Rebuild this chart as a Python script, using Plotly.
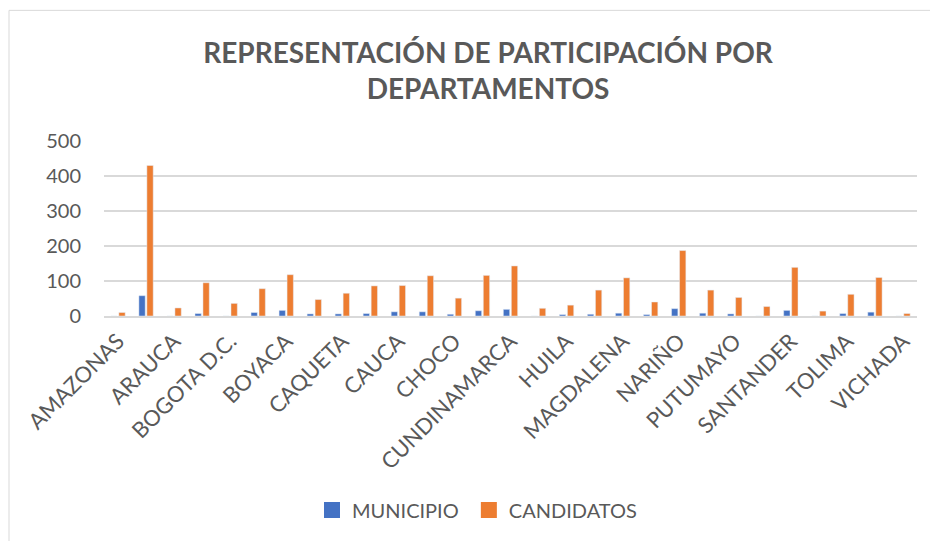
import plotly.graph_objects as go

departamentos = ["AMAZONAS", "ANTIOQUIA", "ARAUCA", "ATLANTICO", "BOGOTA D.C.", "BOLIVAR",
                 "BOYACA", "CALDAS", "CAQUETA", "CASANARE", "CAUCA", "CESAR", "CHOCO",
                 "CORDOBA", "CUNDINAMARCA", "GUAVIARE", "HUILA", "LA GUAJIRA", "MAGDALENA",
                 "META", "NARIÑO", "NORTE DE SANTANDER", "PUTUMAYO", "RISARALDA", "SANTANDER",
                 "SUCRE", "TOLIMA", "VALLE DEL CAUCA", "VICHADA"]
municipio = [0, 58, 0, 7, 0, 10, 16, 6, 6, 7, 12, 12, 5, 15, 19, 0, 4, 5, 8, 4, 21, 8, 6, 0, 16, 0, 7, 11, 0]
candidatos = [10, 430, 23, 95, 36, 78, 118, 47, 65, 86, 87, 115, 51, 116, 143, 22, 31, 74, 109, 40,
              187, 74, 53, 27, 139, 14, 62, 110, 7]
y_ticks = [0, 100, 200, 300, 400, 500]
series_names = ["MUNICIPIO", "CANDIDATOS"]
series_colors = ["#4472C4", "#ED7D31"]

FONT = "Lato"
GREY = "#595959"
GRID = "#D9D9D9"

fig = go.Figure()
for name, vals, col in zip(series_names, [municipio, candidatos], series_colors):
    fig.add_trace(go.Bar(x=departamentos, y=vals, name=name, marker_color=col, showlegend=False))
for name, col in zip(series_names, series_colors):
    fig.add_trace(go.Scatter(x=[None], y=[None], mode="markers", name=name + "\u00a0",
                             marker=dict(symbol="square", size=16, color=col)))

OFF = 8  # page body margin offset
W, H = 938 - OFF, 541 - OFF
# plot area in screen pixels
SL, ST, SR, SB = 104, 141, 917, 316.5
L, T = SL - OFF, ST - OFF
R, B = W - (SR - OFF), H - (SB - OFF)
pw, ph = W - L - R, H - T - B

def px(x):
    return (x - OFF - L) / pw

def py(y):
    return (H - B - (y - OFF)) / ph

fig.update_layout(
    width=W, height=H,
    margin=dict(l=L, r=R, t=T, b=B, pad=0, autoexpand=False),
    paper_bgcolor="white", plot_bgcolor="white",
    font=dict(family=FONT, color=GREY, size=20),
    barmode="group", bargap=0.43, bargroupgap=0.21,
    title=dict(text="<b>REPRESENTACIÓN DE PARTICIPACIÓN POR<br>DEPARTAMENTOS</b>",
               x=(488 - OFF) / W, xanchor="center", y=1 - 55 / H, yanchor="middle",
               font=dict(family=FONT, size=28, color=GREY)),
    showlegend=True,
    legend=dict(orientation="h", x=px(312), xanchor="left", y=py(511), yanchor="middle",
                font=dict(family=FONT, size=20, color=GREY), traceorder="normal",
                itemwidth=30),
    shapes=[
        dict(type="line", xref="paper", yref="paper", x0=px(9), x1=px(945), y0=py(10), y1=py(10),
             line=dict(color=GRID, width=1)),
        dict(type="line", xref="paper", yref="paper", x0=px(9), x1=px(9), y0=py(10), y1=py(545),
             line=dict(color=GRID, width=1)),
    ],
)
fig.update_yaxes(range=[0, 500], tickvals=y_ticks, showgrid=True, gridcolor=GRID, gridwidth=1.5,
                 zeroline=False, showline=False, ticks="", ticklabelstandoff=22,
                 tickfont=dict(family=FONT, size=20, color=GREY), fixedrange=True, automargin=False)
fig.update_xaxes(tickvals=departamentos[::2], ticktext=departamentos[::2], tickangle=-45,
                 showline=True, linecolor=GRID, linewidth=1.5, ticks="", showgrid=False,
                 tickfont=dict(family=FONT, size=22, color=GREY), ticklabelstandoff=2,
                 fixedrange=True, automargin=False)

fig.write_html("out.html")
